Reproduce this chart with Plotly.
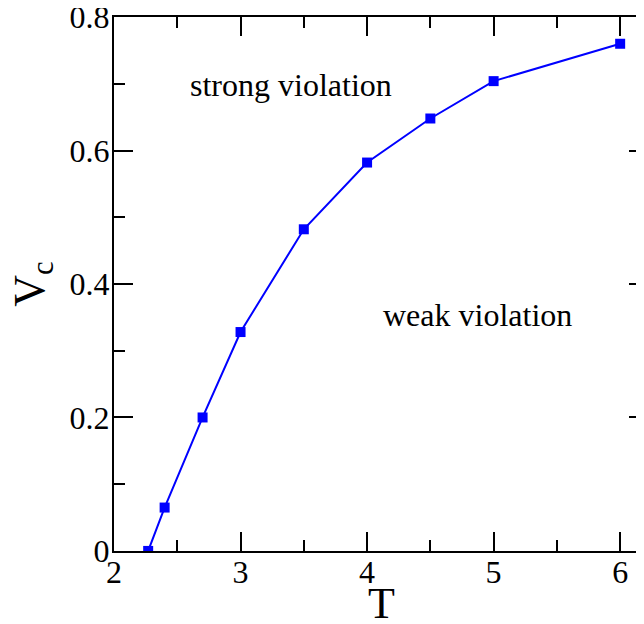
import plotly.graph_objects as go

# T vs critical V_c
T = [2.27, 2.4, 2.7, 3.0, 3.5, 4.0, 4.5, 5.0, 6.0]
Vc = [0.0, 0.065, 0.200, 0.328, 0.482, 0.582, 0.648, 0.704, 0.760]

x_ticks = [2, 3, 4, 5, 6]
y_ticks = [0, 0.2, 0.4, 0.6, 0.8]
y_tick_text = ["0", "0.2", "0.4", "0.6", "0.8"]

font = "Liberation Serif, Times New Roman, serif"

fig = go.Figure()
fig.add_trace(go.Scatter(
    x=T, y=Vc,
    mode="lines+markers",
    line=dict(color="#0000ff", width=2),
    marker=dict(symbol="square", size=10, color="#0000ff"),
    showlegend=False,
))

axis_common = dict(
    showline=True, linecolor="black", linewidth=2,
    ticks="inside", ticklen=19, tickwidth=2, tickcolor="black",
    mirror="ticks", showgrid=False, zeroline=False, automargin=False,
    ticklabeloverflow="allow",
    tickfont=dict(family=font, size=32, color="black"),
)

fig.update_xaxes(
    range=[2, 6.22], tickvals=x_ticks, ticklabelstandoff=-8,
    minor=dict(ticks="inside", ticklen=11, tickwidth=2, tickcolor="black", dtick=0.5, showgrid=False),
    **axis_common,
)
fig.update_yaxes(
    range=[-0.0001, 0.8001], tickvals=y_ticks, ticktext=y_tick_text, ticklabelstandoff=-4,
    minor=dict(ticks="inside", ticklen=11, tickwidth=2, tickcolor="black", dtick=0.1, showgrid=False),
    **axis_common,
)

# axis titles as free text so they can sit exactly where the reference has them
fig.add_annotation(x=0.5, y=-0.099, xref="paper", yref="paper", text="T",
                   showarrow=False, xanchor="center", yanchor="middle",
                   font=dict(family=font, size=44, color="black"))
fig.add_annotation(x=-0.154, y=0.5, xref="paper", yref="paper", text="V<sub>c</sub>",
                   textangle=-90, showarrow=False, xanchor="center", yanchor="middle",
                   font=dict(family=font, size=44, color="black"))

fig.add_annotation(x=3.40, y=0.698, text="strong violation", showarrow=False,
                   font=dict(family=font, size=32, color="black"))
fig.add_annotation(x=4.87, y=0.354, text="weak violation", showarrow=False,
                   font=dict(family=font, size=32, color="black"))

# the page body adds an 8px offset, so the frame is shifted up/left
fig.update_layout(
    width=644, height=616,
    margin=dict(l=106, r=4, t=9, b=73),
    plot_bgcolor="white", paper_bgcolor="white",
)

fig.write_html("out.html")
